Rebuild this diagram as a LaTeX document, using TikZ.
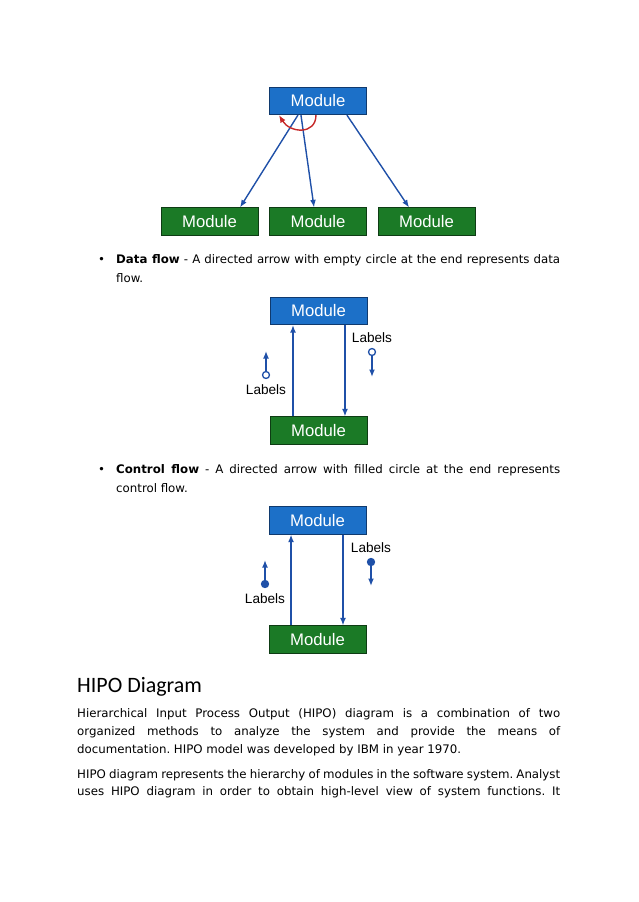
\documentclass[tikz,border=0pt]{standalone}
\usepackage{fontspec}
\setmainfont{DejaVu Sans}
\newfontfamily\modfont{Liberation Sans}
\newfontfamily\headfont{Carlito}
\usepackage{tikz}
\usetikzlibrary{arrows.meta}
\definecolor{modblue}{RGB}{28,112,200}
\definecolor{modblueline}{RGB}{16,58,110}
\definecolor{modgreen}{RGB}{27,122,38}
\definecolor{modgreenline}{RGB}{14,60,20}
\definecolor{linkblue}{RGB}{31,80,168}
\definecolor{arcred}{RGB}{198,40,40}
\def\itemw{414.3pt}
\def\fullw{450.7pt}
\frenchspacing
\tikzset{
  modtop/.style={draw=modblueline, fill=modblue, text=white, line width=0.8pt,
    minimum width=90.5pt, minimum height=25.5pt, inner sep=0pt,
    font=\modfont\fontsize{15.6}{18}\selectfont},
  modbot/.style={modtop, draw=modgreenline, fill=modgreen},
  link/.style={-{Latex[length=7pt,width=5.5pt]}, line width=1.3pt, linkblue},
  lbl/.style={inner sep=0pt, font=\modfont\fontsize{12.7}{15}\selectfont},
  ring/.style={circle, draw=linkblue, line width=1.2pt, fill=white, inner sep=0pt, minimum size=6.5pt},
  blob/.style={ring, fill=linkblue},
  txt/.style={anchor=west, inner sep=0pt, font=\fontsize{11}{13}\selectfont},
}
\begin{document}
\begin{tikzpicture}[x=0.9331pt, y=-0.9331pt]
      \useasboundingbox [fill=white] (0,0) rectangle (638,902);

      \node [modtop] (top)  at (318,101)     {Module};
      \node [modbot] (botl) at (209.5,221.5) {Module};
      \node [modbot] (botm) at (318,221.5)   {Module};
      \node [modbot] (botr) at (426.5,221.5) {Module};
      \draw [link] ([xshift=-18.7pt]top.south) to ([xshift=28.5pt]botl.north);
      \draw [link] ([xshift=-15.9pt]top.south) to ([xshift=-3.7pt]botm.north);
      \draw [link] ([xshift=27pt]top.south)    to ([xshift=-16.3pt]botr.north);
      \draw [-{Latex[length=7pt,width=5.5pt]}, line width=1.3pt, arcred] ([xshift=-1.9pt]top.south)
            .. controls +(0,20) and +(11,18) .. ([xshift=-36.4pt]top.south);

      \node [txt] (b1)  at (98,260)  {\textbullet};
      \node [txt] (d1)  at (116,260) {\makebox[\itemw][s]{\textbf{Data flow} - A directed arrow with empty circle at the end represents data}};
      \node [txt] (d2)  at (116,278) {flow.};

      \node [modtop] (top2) at (318.5,311)   {Module};
      \node [modbot] (bot2) at (318.5,430.5) {Module};
      \draw [link] ([xshift=-23.8pt]bot2.north) to ([xshift=-23.8pt]top2.south);
      \draw [link] ([xshift=24.7pt]top2.south)  to ([xshift=24.7pt]bot2.north);
      \node [ring] (dl2) at (266,375) {};
      \coordinate  (tl2) at (266,351);
      \node [lbl]  (ll2) at (266,390) {Labels};
      \draw [link] (dl2) to (tl2);
      \node [lbl]  (lr2) at (372,338) {Labels};
      \node [ring] (dr2) at (372,352) {};
      \coordinate  (tr2) at (372,377);
      \draw [link] (dr2) to (tr2);

      \node [txt] (b2)  at (98,470)  {\textbullet};
      \node [txt] (c1)  at (116,470) {\makebox[\itemw][s]{\textbf{Control flow} - A directed arrow with filled circle at the end represents}};
      \node [txt] (c2)  at (116,488) {control flow.};

      \node [modtop] (top3) at (317.5,520.5) {Module};
      \node [modbot] (bot3) at (317.5,639.5) {Module};
      \draw [link] ([xshift=-24.7pt]bot3.north) to ([xshift=-24.7pt]top3.south);
      \draw [link] ([xshift=23.8pt]top3.south)  to ([xshift=23.8pt]bot3.north);
      \node [blob] (dl3) at (265,584) {};
      \coordinate  (tl3) at (265,560);
      \node [lbl]  (ll3) at (265,599) {Labels};
      \draw [link] (dl3) to (tl3);
      \node [lbl]  (lr3) at (371,548) {Labels};
      \node [blob] (dr3) at (371,562) {};
      \coordinate  (tr3) at (371,586);
      \draw [link] (dr3) to (tr3);

      \node [anchor=west, inner sep=0pt, font=\headfont\fontsize{20.5}{24}\selectfont] (head) at (77,687) {HIPO Diagram};
      \node [txt] (p1) at (77,714) {\makebox[\fullw][s]{Hierarchical Input Process Output (HIPO) diagram is a combination of two}};
      \node [txt] (p2) at (77,732) {\makebox[\fullw][s]{organized methods to analyze the system and provide the means of}};
      \node [txt] (p3) at (77,750) {documentation. HIPO model was developed by IBM in year 1970.};
      \node [txt] (q1) at (77,775) {\makebox[\fullw][s]{HIPO diagram represents the hierarchy of modules in the software system. Analyst}};
      \node [txt] (q2) at (77,792) {\makebox[\fullw][s]{uses HIPO diagram in order to obtain high-level view of system functions. It}};
\end{tikzpicture}
\end{document}
